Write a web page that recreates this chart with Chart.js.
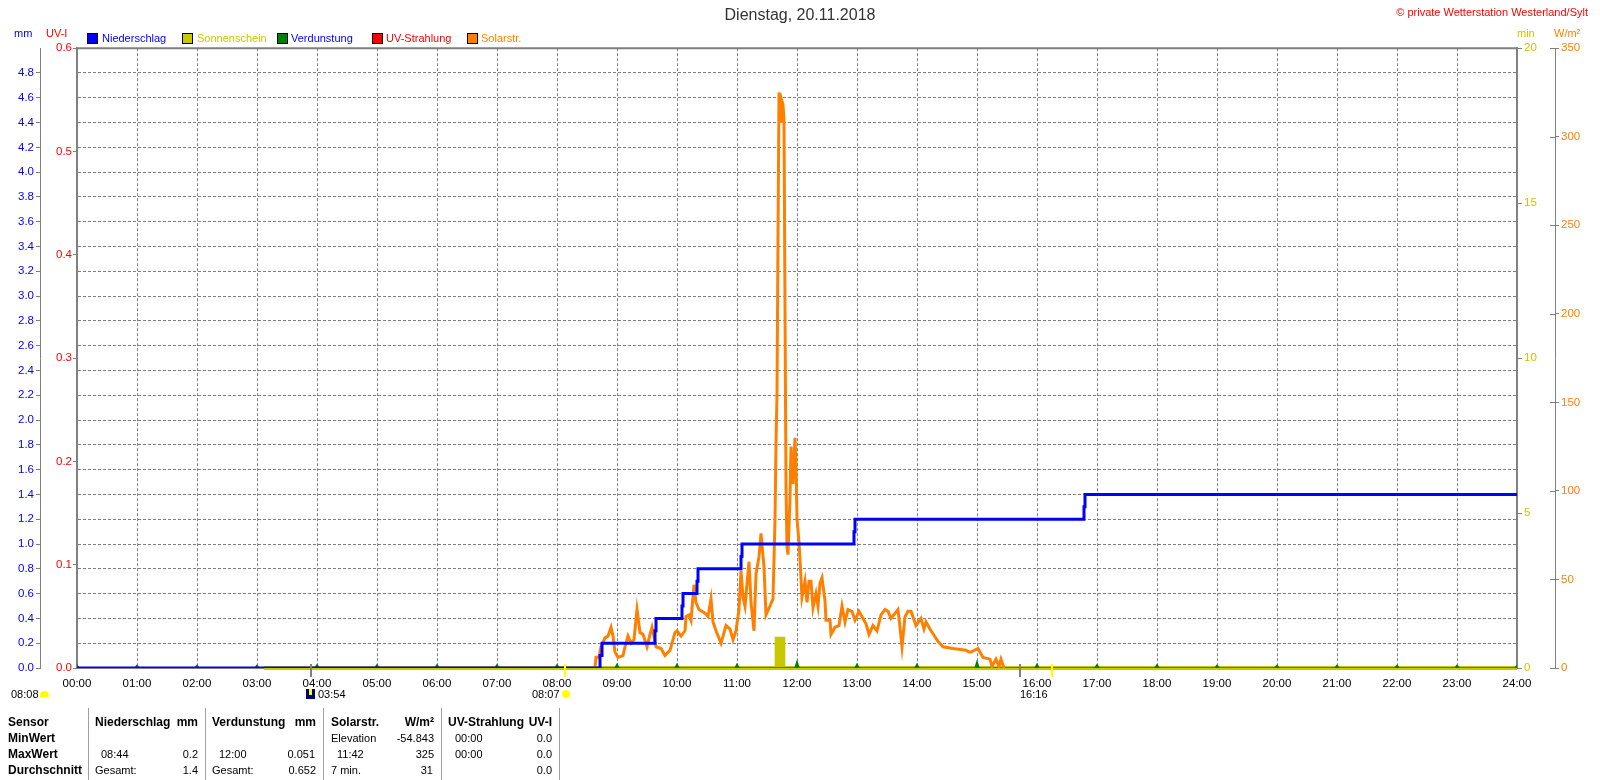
<!DOCTYPE html>
<html>
<head>
<meta charset="utf-8">
<title>Dienstag, 20.11.2018</title>
<script src="https://cdn.jsdelivr.net/npm/chart.js@4"></script>
<style>
  html, body { margin: 0; padding: 0; background: #fff; overflow: hidden; }
  #wrap { position: relative; width: 1600px; height: 780px; font: 11px "Liberation Sans", Arial, sans-serif; color: #000; }
  #wrap span { position: absolute; line-height: 14px; white-space: nowrap; }
  .sep { position: absolute; top: 708px; width: 1px; height: 72px; background: #a0a0a0; }
  .box { position: absolute; top: 33px; width: 9px; height: 9px; border: 1px solid #000; }
</style>
</head>
<body>
<div id="wrap"><canvas id="myChart" width="1600" height="780"></canvas></div>
<script>
// all times are minutes since midnight
const hourTicks = [0, 60, 120, 180, 240, 300, 360, 420, 480, 540, 600, 660, 720, 780, 840, 900, 960, 1020, 1080, 1140, 1200, 1260, 1320, 1380, 1440];

const rainTime = [0, 523, 523, 525, 525, 578, 578, 579, 579, 605, 605, 606, 606, 620, 620, 621, 621, 664, 664, 665, 665, 777, 777, 778, 778, 1007, 1007, 1008, 1008, 1440];
const rainMm = [0, 0, 0.1, 0.1, 0.2, 0.2, 0.3, 0.3, 0.4, 0.4, 0.5, 0.5, 0.6, 0.6, 0.7, 0.7, 0.8, 0.8, 0.9, 0.9, 1.0, 1.0, 1.1, 1.1, 1.2, 1.2, 1.3, 1.3, 1.4, 1.4];

const solarTime = [518, 519, 522, 524, 528, 531, 534, 536, 538, 541, 546, 548, 551, 554, 557, 560, 563, 566, 570, 573, 575, 578, 579, 584, 588, 593, 598, 600, 604, 608, 609, 612, 614, 617, 619, 622, 628, 631, 634, 636, 639, 644, 646, 649, 653, 656, 659, 662, 664, 666, 668, 672, 674, 677, 679, 682, 684, 687, 689, 693, 696, 698, 699, 700, 701, 702, 703, 704, 705, 706, 707, 708, 709, 710, 711, 713, 714, 716, 718, 719, 720, 722, 723, 725, 728, 730, 732, 734, 736, 739, 741, 743, 745, 748, 749, 753, 754, 758, 762, 765, 768, 771, 775, 778, 782, 786, 789, 792, 796, 800, 804, 808, 811, 814, 821, 823, 825, 828, 831, 834, 839, 844, 847, 849, 854, 861, 866, 876, 889, 892, 894, 901, 906, 913, 915, 919, 922, 924, 927];
const solarWm2 = [0, 6, 6, 12, 17, 18, 23, 18, 9, 6, 7, 12, 18, 14, 16, 33, 20, 19, 12, 19, 23, 15, 12, 11, 7, 10, 20, 21, 18, 21, 29, 30, 27, 47, 37, 33, 31, 29, 39, 26, 21, 14, 18, 24, 22, 16, 21, 33, 55, 40, 35, 60, 37, 21, 53, 63, 76, 57, 30, 35, 39, 84, 127, 155, 243, 325, 322, 308, 320, 318, 309, 204, 102, 68, 64, 96, 125, 104, 130, 114, 84, 71, 61, 40, 49, 37, 49, 49, 34, 42, 35, 48, 51, 38, 27, 27, 19, 23, 24, 35, 26, 33, 32, 27, 32, 28, 25, 19, 24, 21, 30, 33, 32, 28, 33, 23, 12, 29, 32, 32, 24, 28, 22, 26, 21, 15, 12, 11, 10, 9, 9, 11, 6, 5, 1, 5, 1, 5, 0];

const evapMm = [0.02, 0.02, 0.02, 0.02, 0.025, 0.025, 0.025, 0.025, 0.025, 0.03, 0.03, 0.03, 0.051, 0.03, 0.03, 0.051, 0.03, 0.025, 0.025, 0.02, 0.02, 0.02, 0.02, 0.02, 0.02];

const sunLineTime = [187, 1440];
const sunLineMin = [0, 0];
const sunBarTime = [703];
const sunBarMin = [1];

const uvTime = [0, 1440];
const uvIndex = [0, 0];

const grayMarks = [234, 943];
const yellowMarks = [488, 975];

const GRAY = '#808080';
const BLUE = '#0000ff';
const YELLOW = '#c8c800';
const GREEN = '#008000';
const RED = '#ff0000';
const ORANGE = '#ff8000';
const FONT = {family: '"Liberation Sans", Arial, sans-serif', size: 11.5};

function toPoints(times, vals) {
  return times.map((t, i) => ({x: t, y: vals[i]}));
}

// small triangle at every full hour
function evapPoints() {
  let pts = [];
  for (let i = 0; i < hourTicks.length; i++) {
    pts.push({x: hourTicks[i] - 2, y: 0});
    pts.push({x: hourTicks[i], y: evapMm[i]});
    pts.push({x: hourTicks[i] + 2, y: 0});
  }
  return pts;
}

function hhmm(m) {
  const h = Math.floor(m / 60);
  return String(h).padStart(2, '0') + ':' + String(m % 60).padStart(2, '0');
}

// frame on top and the short marks for sunrise / sunset
const extras = {
  id: 'extras',
  afterDraw(chart) {
    const ctx = chart.ctx;
    const area = chart.chartArea;
    const x = chart.scales.x;
    ctx.save();
    ctx.strokeStyle = GRAY;
    ctx.lineWidth = 2;
    ctx.beginPath();
    ctx.moveTo(area.left - 1, area.top);
    ctx.lineTo(area.right + 1, area.top);
    ctx.stroke();
    ctx.lineWidth = 1;
    chart.scales.sol.ticks.forEach(t => {
      const y = Math.round(chart.scales.sol.getPixelForValue(t.value)) + 0.5;
      ctx.beginPath();
      ctx.moveTo(area.right + 33, y);
      ctx.lineTo(area.right + 38, y);
      ctx.stroke();
    });
    ctx.lineWidth = 2;
    grayMarks.forEach(m => {
      ctx.beginPath();
      ctx.moveTo(x.getPixelForValue(m), area.bottom - 4);
      ctx.lineTo(x.getPixelForValue(m), area.bottom + 9);
      ctx.stroke();
    });
    ctx.strokeStyle = '#ffff00';
    yellowMarks.forEach(m => {
      ctx.beginPath();
      ctx.moveTo(x.getPixelForValue(m), area.bottom - 4);
      ctx.lineTo(x.getPixelForValue(m), area.bottom + 9);
      ctx.stroke();
    });
    ctx.restore();
  }
};

const lineBase = {type: 'line', pointRadius: 0, tension: 0, xAxisID: 'x'};

new Chart(document.getElementById('myChart').getContext('2d'), {
  type: 'line',
  plugins: [extras],
  data: {
    datasets: [
      {...lineBase, label: 'Niederschlag', data: toPoints(rainTime, rainMm), yAxisID: 'mm', borderColor: BLUE, borderWidth: 3, borderJoinStyle: 'miter', clip: 0, order: 1},
      {...lineBase, label: 'Solarstr.', data: toPoints(solarTime, solarWm2), yAxisID: 'sol', borderColor: ORANGE, borderWidth: 3, clip: 0, order: 2},
      {...lineBase, label: 'Verdunstung', data: evapPoints(), yAxisID: 'mm', borderColor: GREEN, backgroundColor: GREEN, borderWidth: 1.5, fill: 'origin', clip: 0, order: 3},
      {type: 'bar', label: 'Sonnenschein', data: toPoints(sunBarTime, sunBarMin), xAxisID: 'x', yAxisID: 'min', backgroundColor: YELLOW, barThickness: 10, order: 4},
      {...lineBase, label: 'Sonnenschein', data: toPoints(sunLineTime, sunLineMin), yAxisID: 'min', borderColor: YELLOW, borderWidth: 4, clip: false, order: 5},
      {...lineBase, label: 'UV-Strahlung', data: toPoints(uvTime, uvIndex), yAxisID: 'uv', borderColor: RED, borderWidth: 1, clip: 0, order: 6}
    ]
  },
  options: {
    responsive: false,
    animation: false,
    devicePixelRatio: 1,
    layout: {padding: 0},
    plugins: {
      legend: {display: false},
      tooltip: {enabled: false},
      title: {
        display: true,
        text: 'Dienstag, 20.11.2018',
        color: '#333',
        font: {family: FONT.family, size: 16, weight: 'normal'},
        padding: {top: 6, bottom: 23}
      }
    },
    scales: {
      x: {
        type: 'linear',
        offset: false,
        min: 0,
        max: 1440,
        afterFit: s => { s.height = 112; },
        border: {color: GRAY, width: 2, dash: [3, 2]},
        grid: {color: GRAY, drawTicks: false, offset: false},
        ticks: {stepSize: 60, color: '#000', font: FONT, padding: 9, maxRotation: 0, autoSkip: false, callback: v => hhmm(v)}
      },
      mm: {
        position: 'left',
        weight: 1,
        min: 0,
        max: 5,
        afterFit: s => { s.width = 40; },
        border: {color: GRAY, width: 1, dash: [3, 2]},
        grid: {color: GRAY, tickColor: c => (c.tick && c.tick.value >= 5 ? 'rgba(0,0,0,0)' : GRAY), tickLength: 4, tickBorderDash: []},
        ticks: {stepSize: 0.2, color: BLUE, font: FONT, padding: 2, autoSkip: false, callback: v => (v >= 5 ? '' : v.toFixed(1))}
      },
      uv: {
        position: 'left',
        weight: 0,
        min: 0,
        max: 0.6,
        afterFit: s => { s.width = 37; },
        border: {color: GRAY, width: 2},
        grid: {drawOnChartArea: false, color: GRAY, tickLength: 4},
        ticks: {stepSize: 0.1, color: RED, font: FONT, padding: 1, callback: v => v.toFixed(1)}
      },
      min: {
        position: 'right',
        weight: 0,
        min: 0,
        max: 20,
        afterFit: s => { s.width = 38; },
        border: {color: GRAY, width: 2},
        grid: {drawOnChartArea: false, color: GRAY, tickLength: 5},
        ticks: {stepSize: 5, color: YELLOW, font: FONT, padding: 2}
      },
      sol: {
        position: 'right',
        weight: 1,
        min: 0,
        max: 350,
        afterFit: s => { s.width = 45; },
        border: {color: GRAY, width: 1},
        grid: {drawOnChartArea: false, color: GRAY, tickLength: 4},
        ticks: {stepSize: 50, color: ORANGE, font: FONT, padding: 2}
      }
    }
  }
});

// everything around the plot: units, legend, sun times and the summary table
const wrap = document.getElementById('wrap');

function put(text, x, y, color, bold, alignRight) {
  const s = document.createElement('span');
  s.textContent = text;
  s.style.top = (y - 7) + 'px';
  if (alignRight) s.style.right = (1600 - x) + 'px';
  else s.style.left = x + 'px';
  if (color) s.style.color = color;
  if (bold) s.style.font = 'bold 12px "Liberation Sans", Arial, sans-serif';
  wrap.appendChild(s);
}

function box(x, color) {
  const d = document.createElement('div');
  d.className = 'box';
  d.style.left = x + 'px';
  d.style.background = color;
  wrap.appendChild(d);
}

function sep(x) {
  const d = document.createElement('div');
  d.className = 'sep';
  d.style.left = x + 'px';
  wrap.appendChild(d);
}

function shape(x, y, w, h, color, radius) {
  const d = document.createElement('div');
  d.style.cssText = 'position:absolute;left:' + x + 'px;top:' + y + 'px;width:' + w + 'px;height:' + h + 'px;background:' + color + ';border-radius:' + radius;
  wrap.appendChild(d);
}

put('© private Wetterstation Westerland/Sylt', 1588, 12, RED, false, true);
put('mm', 14, 33, BLUE);
put('UV-I', 46, 33, RED);
put('min', 1517, 33, YELLOW);
put('W/m²', 1554, 33, ORANGE);

box(87, BLUE);     put('Niederschlag', 102, 38, BLUE);
box(182, YELLOW);  put('Sonnenschein', 197, 38, YELLOW);
box(277, GREEN);   put('Verdunstung', 291, 38, BLUE);
box(372, RED);     put('UV-Strahlung', 386, 38, RED);
box(467, ORANGE);  put('Solarstr.', 481, 38, ORANGE);

put('08:08', 11, 694);
shape(40, 691, 9, 6, '#ffff00', '5px 5px 0 0');
shape(306, 689, 9, 10, '#000080', '0');
shape(309, 689, 3, 6, '#ffff00', '0');
put('03:54', 318, 694);
put('08:07', 532, 694);
shape(562, 690, 8, 8, '#ffff00', '50%');
put('16:16', 1020, 694);

[88, 205, 323, 441, 559].forEach(sep);

put('Sensor', 8, 722, null, true);
put('MinWert', 8, 738, null, true);
put('MaxWert', 8, 754, null, true);
put('Durchschnitt', 8, 770, null, true);

put('Niederschlag', 95, 722, null, true);
put('mm', 198, 722, null, true, true);
put('08:44', 101, 754);
put('0.2', 198, 754, null, false, true);
put('Gesamt:', 95, 770);
put('1.4', 198, 770, null, false, true);

put('Verdunstung', 212, 722, null, true);
put('mm', 316, 722, null, true, true);
put('12:00', 219, 754);
put('0.051', 315, 754, null, false, true);
put('Gesamt:', 212, 770);
put('0.652', 316, 770, null, false, true);

put('Solarstr.', 331, 722, null, true);
put('W/m²', 434, 722, null, true, true);
put('Elevation', 331, 738);
put('-54.843', 434, 738, null, false, true);
put('11:42', 337, 754);
put('325', 434, 754, null, false, true);
put('7 min.', 331, 770);
put('31', 433, 770, null, false, true);

put('UV-Strahlung', 448, 722, null, true);
put('UV-I', 552, 722, null, true, true);
put('00:00', 455, 738);
put('0.0', 552, 738, null, false, true);
put('00:00', 455, 754);
put('0.0', 552, 754, null, false, true);
put('0.0', 552, 770, null, false, true);
</script>
</body>
</html>
